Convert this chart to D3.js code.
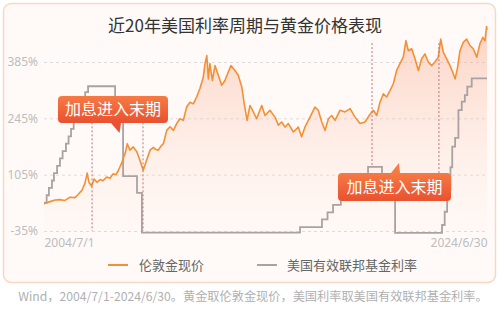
<!DOCTYPE html>
<html>
<head>
<meta charset="utf-8">
<script src="https://cdn.jsdelivr.net/npm/d3@7"></script>
<style>
body{margin:0;background:#fff;font-family:"Noto Sans CJK SC","Noto Sans",sans-serif;}
</style>
</head>
<body>
<div id="chart"></div>
<script>
// gold (London spot), value in %
var goldYears = [2004.50,2004.77,2005.00,2005.22,2005.45,2005.67,2005.90,2006.03,2006.22,2006.35,
  2006.45,2006.53,2006.65,2006.76,2006.89,2007.03,2007.16,2007.33,2007.48,2007.62,
  2007.75,2007.86,2008.00,2008.08,2008.18,2008.26,2008.38,2008.53,2008.69,2008.83,
  2008.98,2009.11,2009.29,2009.44,2009.53,2009.66,2009.78,2009.89,2010.04,2010.19,
  2010.34,2010.49,2010.64,2010.79,2010.94,2011.09,2011.24,2011.39,2011.54,2011.69,
  2011.77,2011.85,2011.92,2011.99,2012.10,2012.22,2012.37,2012.52,2012.67,2012.82,
  2012.94,2013.12,2013.27,2013.43,2013.54,2013.67,2013.80,2013.95,2014.10,2014.33,
  2014.48,2014.70,2014.93,2015.08,2015.23,2015.38,2015.53,2015.76,2015.98,2016.13,
  2016.28,2016.51,2016.73,2016.88,2017.04,2017.19,2017.34,2017.49,2017.64,2017.86,
  2018.09,2018.32,2018.54,2018.77,2018.99,2019.22,2019.37,2019.52,2019.67,2019.82,
  2019.97,2020.12,2020.27,2020.42,2020.57,2020.72,2020.84,2020.95,2021.10,2021.25,
  2021.40,2021.55,2021.70,2021.85,2022.00,2022.15,2022.30,2022.41,2022.53,2022.68,
  2022.83,2022.95,2023.06,2023.16,2023.28,2023.43,2023.58,2023.73,2023.88,2024.04,
  2024.18,2024.31,2024.41,2024.48,2024.50];
var goldValues = [33,38,42,43,41,49,48,55,67,84,
  109,86,76,94,86,93,90,99,96,107,
  105,116,133,146,161,182,166,174,162,141,
  116,137,166,173,168,166,176,182,215,224,
  215,232,244,240,273,285,281,298,319,347,
  381,401,343,381,339,376,352,327,339,360,
  376,364,352,323,281,240,277,261,244,277,
  252,265,248,228,236,223,232,211,223,199,
  223,248,273,265,236,215,244,252,240,265,
  261,269,248,232,236,255,265,252,285,306,
  298,314,331,364,381,397,438,413,418,393,
  364,393,405,385,376,385,397,442,409,393,
  376,360,343,368,413,434,442,426,418,397,
  430,446,438,473,465];

// US effective fed funds rate (%), step data
var rateYears = [2004.50,2004.62,2004.72,2004.86,2004.95,2005.09,2005.22,2005.34,2005.49,2005.61,
  2005.72,2005.84,2005.95,2006.08,2006.24,2006.36,2006.49,2007.71,2007.95,2008.07,
  2008.70,2008.92,2016.06,2017.05,2017.30,2017.55,2017.90,2018.20,2018.50,2018.80,
  2019.13,2019.76,2019.95,2020.35,2022.47,2022.59,2022.70,2022.85,2022.93,2023.06,
  2023.21,2023.36,2023.50,2023.61,2023.81,2024.50];
var rateValues = [1.10,1.35,1.60,1.85,2.10,2.35,2.60,2.85,3.10,3.35,
  3.60,3.85,4.10,4.35,4.60,4.85,5.05,4.30,4.20,2.00,
  1.43,0.08,0.27,0.53,0.77,1.02,1.30,1.55,1.80,2.05,
  2.31,2.00,1.60,0.07,0.34,0.79,1.55,2.30,3.00,3.30,
  4.24,4.53,4.75,5.04,5.32,5.32];

var yTicks = [-35,105,245,385];
var xTicks = [2004.5,2024.5];
var xTickLabels = ["2004/7/1","2024/6/30"];
var markerYears = [2006.67,2008.97,2019.31,2022.33];
var calloutText = "加息进入末期";
var titleText = "近20年美国利率周期与黄金价格表现";
var legendNames = ["伦敦金现价","美国有效联邦基金利率"];
var sourceText = "Wind，2004/7/1-2024/6/30。黄金取伦敦金现价，美国利率取美国有效联邦基金利率。";

var W = 499, H = 310;
var svg = d3.select('#chart').append('svg').attr('width',W).attr('height',H);

var x = d3.scaleLinear().domain([2004.5,2024.5]).range([44,487]);
var y = d3.scaleLinear().domain([-35,385]).range([231,62]);
var yRate = d3.scaleLinear().domain([0,5.5]).range([235,73]);

var defs = svg.append('defs');
var g1 = defs.append('linearGradient').attr('id','goldFill')
  .attr('gradientUnits','userSpaceOnUse').attr('x1',0).attr('y1',25).attr('x2',0).attr('y2',231);
g1.append('stop').attr('offset',0).attr('stop-color','#f7a080').attr('stop-opacity',0.45);
g1.append('stop').attr('offset',1).attr('stop-color','#fde6dc').attr('stop-opacity',0.1);
var g2 = defs.append('linearGradient').attr('id','callFill').attr('x1',0).attr('y1',0).attr('x2',0).attr('y2',1);
g2.append('stop').attr('offset',0).attr('stop-color','#f67a44');
g2.append('stop').attr('offset',1).attr('stop-color','#ea5130');

// card
svg.append('rect').attr('x',3.5).attr('y',3.5).attr('width',492).attr('height',279).attr('rx',8)
  .attr('fill','#fffaf7').attr('stroke','#f8d8c4').attr('stroke-width',1.5);

svg.append('text').attr('x',245).attr('y',32).attr('text-anchor','middle')
  .attr('font-size',17).attr('fill','#333').text(titleText);

// y axis + grid
var axisY = d3.axisLeft(y).tickValues(yTicks).tickFormat(function(d){return d+'%';})
  .tickSizeInner(-443).tickSizeOuter(0).tickPadding(6);
var gy = svg.append('g').attr('transform','translate(44,0)').call(axisY);
gy.select('.domain').remove();
gy.selectAll('line').attr('stroke','#dcdcdc').attr('stroke-dasharray','3,3');
gy.selectAll('text').attr('fill','#bdbdbd').attr('font-size',12).attr('font-family','"Noto Sans",sans-serif');

// x axis (only end labels)
var axisX = d3.axisBottom(x).tickValues(xTicks).tickFormat(function(d,i){return xTickLabels[i];}).tickSize(0).tickPadding(7);
var gx = svg.append('g').attr('transform','translate(0,231)').call(axisX);
gx.select('.domain').remove();
gx.selectAll('text').attr('fill','#bdbdbd').attr('font-size',12).attr('font-family','"Noto Sans",sans-serif')
  .attr('text-anchor',function(d,i){return i==0?'start':'end';});

var gold = goldYears.map(function(d,i){return {t:d,v:goldValues[i]};});
var rate = rateYears.map(function(d,i){return {t:d,v:rateValues[i]};});

var area = d3.area().x(function(d){return x(d.t);}).y0(y(-35)).y1(function(d){return y(d.v);});
svg.append('path').datum(gold).attr('d',area).attr('fill','url(#goldFill)');

var rateLine = d3.line().x(function(d){return x(d.t);}).y(function(d){return yRate(d.v);}).curve(d3.curveStepAfter);
svg.append('path').datum(rate).attr('d',rateLine).attr('fill','none')
  .attr('stroke','#aaa2a2').attr('stroke-width',1.8);

var goldLine = d3.line().x(function(d){return x(d.t);}).y(function(d){return y(d.v);});
svg.append('path').datum(gold).attr('d',goldLine).attr('fill','none')
  .attr('stroke','#f39036').attr('stroke-width',1.6).attr('stroke-linejoin','round');

// dotted markers for the periods
var markTop = [y(245), y(245), y(432), y(432)];
var markBottom = [y(-35), y(-35), yRate(2.31), yRate(1.5)];
svg.selectAll('.mark').data(markerYears).enter().append('line').attr('class','mark')
  .attr('x1',function(d){return x(d);}).attr('x2',function(d){return x(d);})
  .attr('y1',function(d,i){return markTop[i];}).attr('y2',function(d,i){return markBottom[i];})
  .attr('stroke','#b8767c').attr('stroke-width',1).attr('stroke-dasharray','2,2');

// callouts
function callout(x0,y0,w,h,tip,base1,base2,up){
  var g = svg.append('g');
  var by = up ? y0 : y0+h;
  g.append('path').attr('d','M'+base1+','+by+'L'+tip[0]+','+tip[1]+'L'+base2+','+by+'Z')
    .attr('fill', up ? '#f67a44' : '#ea5130');
  g.append('rect').attr('x',x0).attr('y',y0).attr('width',w).attr('height',h).attr('rx',4)
    .attr('fill','url(#callFill)');
  g.append('text').attr('x',x0+w/2).attr('y',y0+h/2+5.5).attr('text-anchor','middle')
    .attr('font-size',16).attr('fill','#fff').text(calloutText);
}
callout(58,96,110,27,[119.5,133],111,121,false);
callout(338,173,113,28,[399,163],391,400,true);

// legend
var lg = svg.append('g');
lg.append('line').attr('x1',108).attr('x2',128).attr('y1',265).attr('y2',265).attr('stroke','#f39036').attr('stroke-width',2);
lg.append('text').attr('x',139).attr('y',270).attr('font-size',13).attr('fill','#666').text(legendNames[0]);
lg.append('line').attr('x1',257).attr('x2',277).attr('y1',265).attr('y2',265).attr('stroke','#aaa2a2').attr('stroke-width',2);
lg.append('text').attr('x',287).attr('y',270).attr('font-size',13).attr('fill','#666').text(legendNames[1]);

svg.append('text').attr('x',253).attr('y',301).attr('text-anchor','middle')
  .attr('font-size',12.2).attr('fill','#b0b0b0').text(sourceText);
</script>
</body>
</html>
